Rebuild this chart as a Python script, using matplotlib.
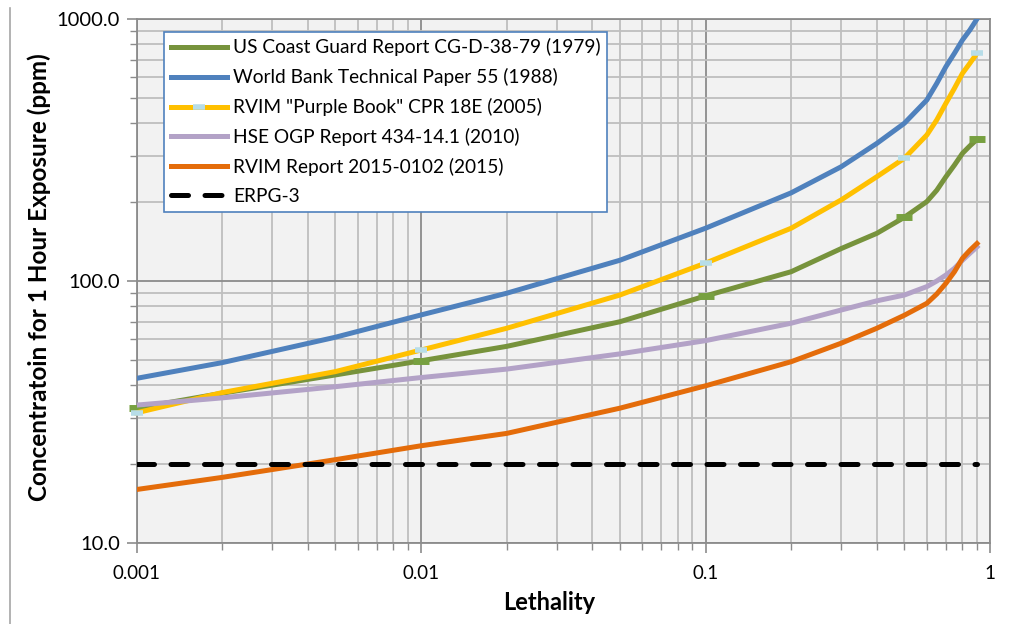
import matplotlib
matplotlib.use("Agg")
import matplotlib.pyplot as plt
from matplotlib.lines import Line2D
from matplotlib.ticker import LogLocator, FixedLocator, FixedFormatter, NullFormatter

plt.rcParams['font.family'] = ['Lato', 'DejaVu Sans']

# ---- data ----
lethality = [0.001, 0.002, 0.005, 0.01, 0.02, 0.05, 0.1, 0.2, 0.3, 0.4, 0.5, 0.6, 0.65,
             0.7, 0.75, 0.8, 0.85, 0.9]
uscg_1979 = [32.7, 37.3, 43.8, 49.6, 56.3, 69.9, 87.7, 108.5, 133, 152, 175, 201, 222,
             250, 277, 307, 328, 347]
worldbank_1988 = [42.5, 48.8, 61.0, 74.2, 89.8, 120, 159, 217, 273, 335, 400, 491, 568,
                  658, 740, 831, 908, 1000]
purplebook_2005 = [31.4, 37.5, 45.1, 54.5, 66.0, 88.4, 117, 159, 204, 250, 294, 361, 412,
                   477, 544, 620, 678, 740]
hse_2010 = [33.6, 35.8, 39.5, 42.8, 46.1, 52.7, 59.2, 69.0, 77.5, 84, 88.4, 95.2, 100,
            105.4, 111.8, 120, 127.6, 135]
rvim_2015 = [16.0, 17.8, 20.8, 23.5, 26.2, 32.7, 39.8, 49.2, 57.9, 66, 74.0, 82.2, 89.2,
             98, 108.5, 122, 131, 139]
erpg_x = [0.001, 0.9]
erpg3 = [20, 20]

series_labels = ['US Coast Guard Report CG-D-38-79 (1979)',
                 'World Bank Technical Paper 55 (1988)',
                 'RVIM "Purple Book" CPR 18E (2005)',
                 'HSE OGP Report 434-14.1 (2010)',
                 'RVIM Report 2015-0102 (2015)',
                 'ERPG-3']
marker_idx = [0, 3, 6, 10, 17]

x_ticks = [0.001, 0.01, 0.1, 1]
x_ticklabels = ['0.001', '0.01', '0.1', '1']
y_ticks = [10, 100, 1000]
y_ticklabels = ['10.0', '100.0', '1000.0']

# ---- figure ----
fig = plt.figure(figsize=(10.32, 6.24), dpi=100)
ax = fig.add_axes([136.5 / 1032, 81 / 624, 853.5 / 1032, 524 / 624])
ax.set_facecolor('#f2f2f2')
ax.set_xscale('log')
ax.set_yscale('log')
ax.set_xlim(0.001, 1)
ax.set_ylim(10, 1000)

lw = 3.6
l_uscg, = ax.plot(lethality, uscg_1979, color='#77933c', lw=lw,
                  marker='_', markevery=marker_idx, ms=11, mew=5, mec='#77a040',
                  zorder=3, clip_on=False, solid_joinstyle='round')
l_wb, = ax.plot(lethality, worldbank_1988, color='#4f81bd', lw=lw, zorder=3,
                solid_joinstyle='round')
l_pb, = ax.plot(lethality, purplebook_2005, color='#ffc000', lw=lw,
                marker='_', markevery=marker_idx, ms=9, mew=4, mec='#b7dde8',
                zorder=3, clip_on=False, solid_joinstyle='round')
l_hse, = ax.plot(lethality, hse_2010, color='#b3a2c7', lw=lw, zorder=3,
                 solid_joinstyle='round')
l_rv, = ax.plot(lethality, rvim_2015, color='#e46c0a', lw=lw, zorder=3,
                solid_joinstyle='round')
l_erpg, = ax.plot(erpg_x, erpg3, color='black', lw=lw, ls=(0, (3.4, 3.3)),
                  dash_capstyle='round', zorder=3)

# grid
ax.xaxis.set_major_locator(FixedLocator(x_ticks))
ax.xaxis.set_major_formatter(FixedFormatter(x_ticklabels))
ax.yaxis.set_major_locator(FixedLocator(y_ticks))
ax.yaxis.set_major_formatter(FixedFormatter(y_ticklabels))
ax.xaxis.set_minor_locator(LogLocator(base=10, subs=range(2, 10)))
ax.yaxis.set_minor_locator(LogLocator(base=10, subs=range(2, 10)))
ax.xaxis.set_minor_formatter(NullFormatter())
ax.yaxis.set_minor_formatter(NullFormatter())
ax.grid(which='major', color='#8c8c8c', lw=1.3, zorder=1)
ax.grid(which='minor', color='#bfbfbf', lw=1.3, zorder=1)
ax.set_axisbelow(True)

for s in ax.spines.values():
    s.set_color('#8c8c8c')
    s.set_linewidth(1.3)

ax.tick_params(which='major', direction='out', length=7, color='#8c8c8c', width=1.2, pad=6)
ax.tick_params(which='minor', direction='out', length=5, color='#8c8c8c', width=1.0)
ax.tick_params(axis='x', which='major', labelsize=13.5, pad=9)
ax.tick_params(axis='y', which='major', labelsize=14.5, pad=5)

ax.set_xlabel('Lethality', fontsize=17, fontweight='bold')
ax.xaxis.set_label_coords(0.483, -0.092)
ax.set_ylabel('Concentratoin for 1 Hour Exposure (ppm)', fontsize=17.5, fontweight='bold')
ax.yaxis.set_label_coords(-0.1, 0.507)

# legend handles (green shows a plain line in the reference legend)
h_uscg = Line2D([], [], color='#77933c', lw=lw)
h_pb = Line2D([], [], color='#ffc000', lw=lw, marker='_', ms=9, mew=4, mec='#b7dde8')
handles = [h_uscg, l_wb, h_pb, l_hse, l_rv, l_erpg]
leg = ax.legend(handles, series_labels, loc='upper left', bbox_to_anchor=(0.032, 0.976),
                borderaxespad=0, fontsize=13.8, frameon=True, fancybox=False,
                handlelength=2.95, handletextpad=0.3, labelspacing=0.62, borderpad=0.35,
                numpoints=1)
leg.get_frame().set_edgecolor('#4f81bd')
leg.get_frame().set_linewidth(1.2)
leg.get_frame().set_facecolor('white')
leg.get_frame().set_alpha(1)
leg.set_zorder(5)

# thin vertical line at the left edge of the image
fig.add_artist(Line2D([9.5 / 1032, 9.5 / 1032], [0, 1 - 8 / 624], transform=fig.transFigure,
                      color='#a6a6a6', lw=1.2))

fig.savefig('out.png', dpi=100, facecolor='white')
